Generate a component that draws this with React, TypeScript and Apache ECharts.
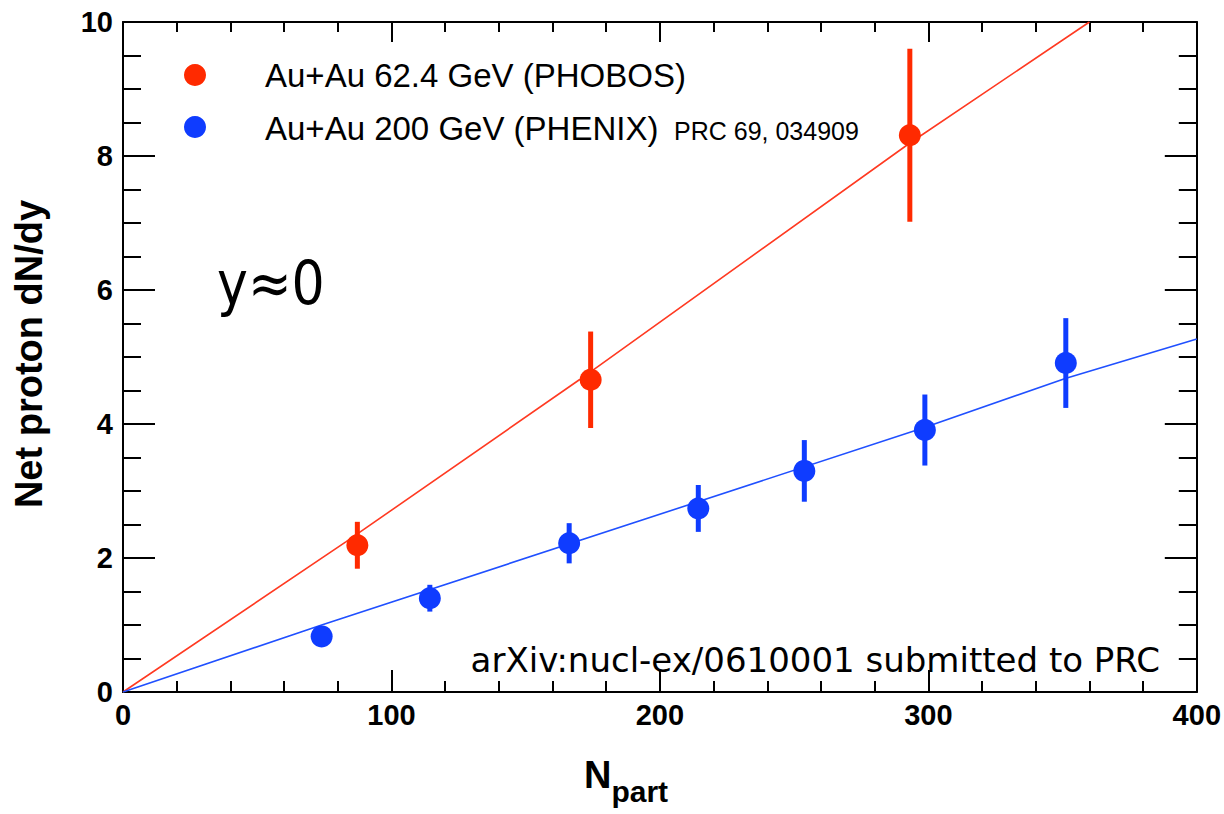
import React, { useEffect, useRef } from "react";
import * as echarts from "echarts";

// ---- data ----
const redX = [87.3, 174.2, 293.1];
const redY = [2.19, 4.66, 8.31];
const redErr = [0.35, 0.72, 1.29];

const blueX = [74, 114.3, 166.2, 214.3, 253.8, 298.7, 351.2];
const blueY = [0.83, 1.4, 2.22, 2.74, 3.3, 3.91, 4.91];
const blueErr = [0.1, 0.2, 0.3, 0.35, 0.46, 0.53, 0.67];

const redFitX = [0, 83, 170, 293, 360];
const redFitY = [0, 2.24, 4.66, 8.19, 10];
const blueFitX = [0, 74, 298, 351, 400];
const blueFitY = [0, 1.0, 3.94, 4.68, 5.27];

const xTicks = { min: 0, max: 400, interval: 100 };
const yTicks = { min: 0, max: 10, interval: 2 };

const legendLabels = ["Au+Au 62.4 GeV (PHOBOS)", "Au+Au 200 GeV (PHENIX)"];
const legendRef = "PRC 69, 034909";
const note = "arXiv:nucl-ex/0610001 submitted to PRC";
const rapidity = "y\u22480";
const yTitle = "Net proton dN/dy";

const RED = "#ff2a00";
const BLUE = "#0f3cff";
const RED_LINE = "#ff3a22";
const BLUE_LINE = "#2050ff";

const zip = (a: number[], b: number[]) => a.map((v, i) => [v, b[i]]);
const zip3 = (a: number[], b: number[], c: number[]) => a.map((v, i) => [v, b[i], c[i]]);

function errBars(color: string, data: number[][]) {
  return {
    type: "custom",
    data,
    z: 3,
    renderItem: (_p: any, api: any) => {
      const x = api.value(0);
      const y = api.value(1);
      const e = api.value(2);
      const top = api.coord([x, y + e]);
      const bot = api.coord([x, y - e]);
      return {
        type: "line",
        shape: { x1: top[0], y1: top[1], x2: bot[0], y2: bot[1] },
        style: { stroke: color, lineWidth: 5 },
      };
    },
  };
}

const axisCommon = (isX: boolean, labels: boolean, major: number, minor: number) => ({
  type: "value",
  ...(isX ? xTicks : yTicks),
  axisLine: { show: true, onZero: false, lineStyle: { color: "#000", width: 2 } },
  axisTick: { show: true, inside: true, length: major, lineStyle: { color: "#000", width: 2 } },
  minorTick: {
    show: true,
    splitNumber: isX ? 5 : 4,
    length: minor,
    lineStyle: { color: "#000", width: 2 },
  },
  splitLine: { show: false },
  minorSplitLine: { show: false },
  axisLabel: {
    show: labels,
    color: "#000",
    fontFamily: "Liberation Sans",
    fontWeight: "bold",
    fontSize: 29,
    margin: isX ? 8 : 10,
    showMinLabel: true,
    showMaxLabel: true,
  },
});

export default function App() {
  const ref = useRef<HTMLDivElement>(null);
  useEffect(() => {
    const chart = echarts.init(ref.current!, null, { renderer: "svg" });
    const option: any = {
      animation: false,
      backgroundColor: "#fff",
      grid: { left: 123, top: 22, right: 27, bottom: 122, containLabel: false },
      xAxis: [
        { ...axisCommon(true, true, 22, 11), position: "bottom" },
        { ...axisCommon(true, false, 20, 10), position: "top" },
      ],
      yAxis: [
        { ...axisCommon(false, true, 32, 18), position: "left" },
        { ...axisCommon(false, false, 32, 18), position: "right" },
      ],
      series: [
        {
          type: "line",
          data: zip(redFitX, redFitY),
          symbol: "none",
          lineStyle: { color: RED_LINE, width: 1.6 },
          z: 2,
        },
        {
          type: "line",
          data: zip(blueFitX, blueFitY),
          symbol: "none",
          lineStyle: { color: BLUE_LINE, width: 1.6 },
          z: 2,
        },
        errBars(RED, zip3(redX, redY, redErr)),
        errBars(BLUE, zip3(blueX, blueY, blueErr)),
        {
          type: "scatter",
          data: zip(redX, redY),
          symbol: "circle",
          symbolSize: 22,
          itemStyle: { color: RED, opacity: 1 },
          z: 4,
        },
        {
          type: "scatter",
          data: zip(blueX, blueY),
          symbol: "circle",
          symbolSize: 22,
          itemStyle: { color: BLUE, opacity: 1 },
          z: 4,
        },
      ],
      graphic: [
        { type: "circle", shape: { cx: 195, cy: 75, r: 11 }, style: { fill: RED } },
        { type: "circle", shape: { cx: 195, cy: 127, r: 11 }, style: { fill: BLUE } },
        {
          type: "text",
          x: 265,
          y: 75,
          style: {
            text: legendLabels[0],
            font: "33px 'Liberation Sans'",
            fill: "#000",
            verticalAlign: "middle",
          },
        },
        {
          type: "text",
          x: 265,
          y: 128,
          style: {
            text: legendLabels[1],
            font: "33px 'Liberation Sans'",
            fill: "#000",
            verticalAlign: "middle",
          },
        },
        {
          type: "text",
          x: 674,
          y: 131,
          style: {
            text: legendRef,
            font: "25px 'Liberation Sans'",
            fill: "#000",
            verticalAlign: "middle",
          },
        },
        {
          type: "text",
          x: 217,
          y: 313,
          scaleX: 0.87,
          style: {
            text: rapidity,
            font: "60px 'DejaVu Sans'",
            fill: "#000",
            verticalAlign: "bottom",
          },
        },
        {
          type: "text",
          x: 1160,
          y: 660,
          style: {
            text: note,
            font: "34px 'DejaVu Sans'",
            fill: "#000",
            align: "right",
            verticalAlign: "middle",
          },
        },
        {
          type: "text",
          x: 29,
          y: 354,
          rotation: Math.PI / 2,
          style: {
            text: yTitle,
            font: "bold 38px 'Liberation Sans'",
            fill: "#000",
            align: "center",
            verticalAlign: "middle",
          },
        },
        {
          type: "text",
          x: 584,
          y: 794,
          style: {
            text: "{n|N}{s|part}",
            verticalAlign: "bottom",
            rich: {
              n: { font: "bold 38px 'Liberation Sans'", fill: "#000", verticalAlign: "bottom" },
              s: {
                font: "bold 30px 'Liberation Sans'",
                fill: "#000",
                verticalAlign: "bottom",
                padding: [0, 0, -12, 0],
              },
            },
          },
        },
      ],
    };
    chart.setOption(option);
    return () => chart.dispose();
  }, []);
  return (
    <div
      ref={ref}
      style={{ position: "fixed", left: 0, top: 0, width: 1224, height: 814, background: "#fff" }}
    />
  );
}
